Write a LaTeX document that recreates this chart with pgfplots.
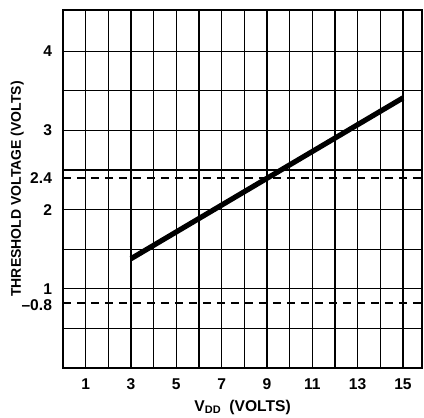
\documentclass[border=0pt]{standalone}
\usepackage{fontspec}
\setmainfont{Liberation Sans}
\usepackage{pgfplots}
\pgfplotsset{compat=1.18}

\begin{document}
\begin{tikzpicture}
\begin{axis}[
    name=ax,
    scale only axis,
    width=179.6pt, height=179pt,
    xmin=0, xmax=15.85,
    ymin=0, ymax=4.52,
    axis line style={line width=1.1pt},
    font=\fontsize{7.8}{9}\selectfont\bfseries,
    xtick={1,3,5,7,9,11,13,15},
    xticklabels={1,3,5,7,9,11,13,15},
    minor xtick={2,4,6,8,10,12,14},
    ytick={1,2,3,4},
    yticklabels={1,2,3,4},
    minor ytick={0.5,1.5,2.5,3.5},
    extra y ticks={0.8,2.4},
    extra y tick labels={--0.8,2.4},
    extra y tick style={grid=none},
    major tick length=0pt, minor tick length=0pt,
    grid=both,
    grid style={black, line width=0.6pt},
    minor grid style={black, line width=0.6pt},
    xticklabel style={yshift=-2pt},
    yticklabel style={xshift=-2pt},
    xlabel={V\textsubscript{DD}\enspace(VOLTS)},
    ylabel={THRESHOLD VOLTAGE (VOLTS)},
    xlabel style={yshift=2pt},
    ylabel style={yshift=-8pt, font=\fontsize{7}{8}\selectfont\bfseries},
    clip=false,
]
\addplot[black, line width=2.6pt, no markers] coordinates {(3,1.38) (15,3.41)};
\addplot[black, line width=1.2pt, dash pattern=on 4pt off 3pt, no markers] coordinates {(0,2.4) (15.85,2.4)};
\addplot[black, line width=1.2pt, dash pattern=on 4pt off 3pt, no markers] coordinates {(0,0.82) (15.85,0.82)};
\end{axis}
\pgfresetboundingbox
\path ([xshift=-31.5pt,yshift=-25pt]ax.south west) rectangle ([xshift=180.5pt,yshift=184pt]ax.south west);
\end{tikzpicture}
\end{document}
